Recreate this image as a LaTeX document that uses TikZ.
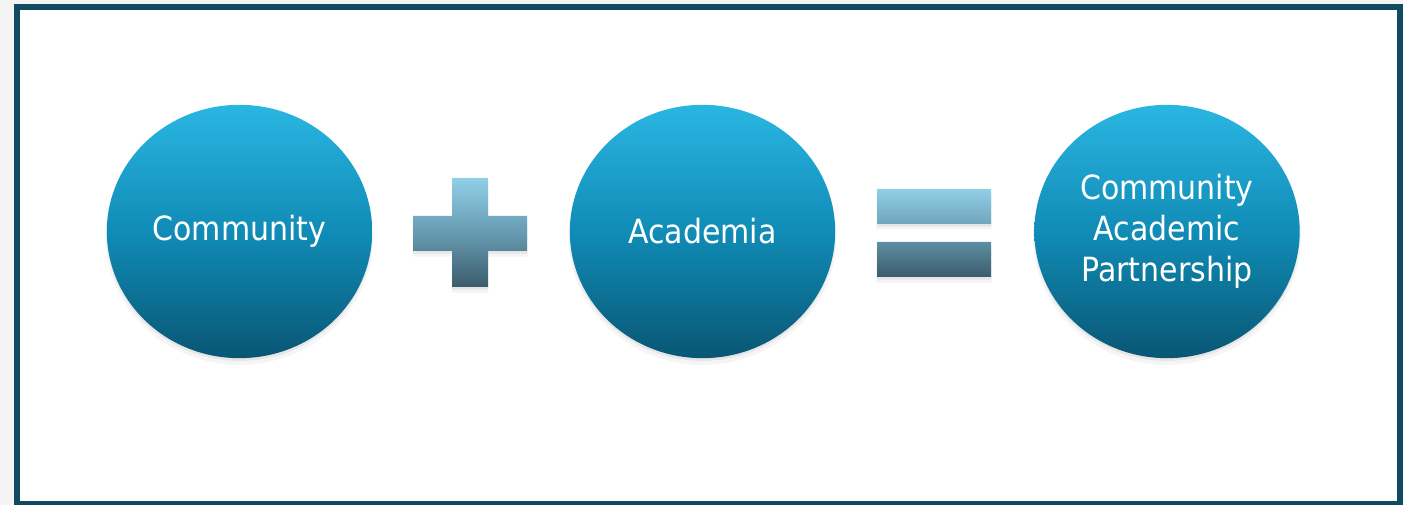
\documentclass[tikz,border=0pt]{standalone}
\usepackage{tikz}
\usetikzlibrary{shadows, shapes.geometric}
\usepackage{fontspec}
\setmainfont{DejaVu Sans Condensed}

\definecolor{framecol}{RGB}{17,74,99}
\definecolor{balltop}{RGB}{42,182,226}
\definecolor{ballmid}{RGB}{16,140,182}
\definecolor{ballbot}{RGB}{9,86,116}
\definecolor{signtop}{RGB}{145,207,230}
\definecolor{signmid}{RGB}{102,155,178}
\definecolor{signbot}{RGB}{60,92,108}

\tikzset{
  softshadow/.style={
    drop shadow={opacity=0.08, shadow xshift=0pt, shadow yshift=-4pt, shadow scale=1.01},
    drop shadow={opacity=0.12, shadow xshift=0pt, shadow yshift=-2pt}},
  ball/.style={ellipse, minimum width=199pt, minimum height=190pt, inner sep=0pt, align=center,
    top color=balltop, bottom color=ballbot, middle color=ballmid,
    text=white, font=\fontsize{25}{30.75}\selectfont, softshadow},
  sign/.style={top color=signtop, bottom color=signbot, middle color=signmid, softshadow}
}

\begin{document}
\begin{tikzpicture}[x=0.75pt,y=0.75pt,yscale=-1,xscale=1]
\useasboundingbox (0,0) rectangle (1403,505);

%Shape: Background
\fill [color={rgb, 255:red, 244; green, 244; blue, 244 }] (0,0) rectangle (1403,505);
\fill [white] (17,7) rectangle (1400,504);
%Shape: Frame
\draw [color=framecol, line width=4.5pt] (17,7) rectangle (1400,504);

%Shape: Circle
\node [ball] (comm) at (239.5,231.5) {Community};
%Shape: Circle
\node [ball] (acad) at (702.5,231.5) {Academia};
%Shape: Circle
\node [ball] (cap) at (1167,231.5) {Community\\Academic\\Partnership};

%Shape: Plus
\shade [sign] (452,178) -- (488,178) -- (488,216) -- (527,216) -- (527,251) -- (488,251)
  -- (488,287) -- (452,287) -- (452,251) -- (413,251) -- (413,216) -- (452,216) -- cycle;

%Shape: Equals
\shade [sign] (877,189) rectangle (991,224) (877,242) rectangle (991,277);

\end{tikzpicture}
\end{document}
